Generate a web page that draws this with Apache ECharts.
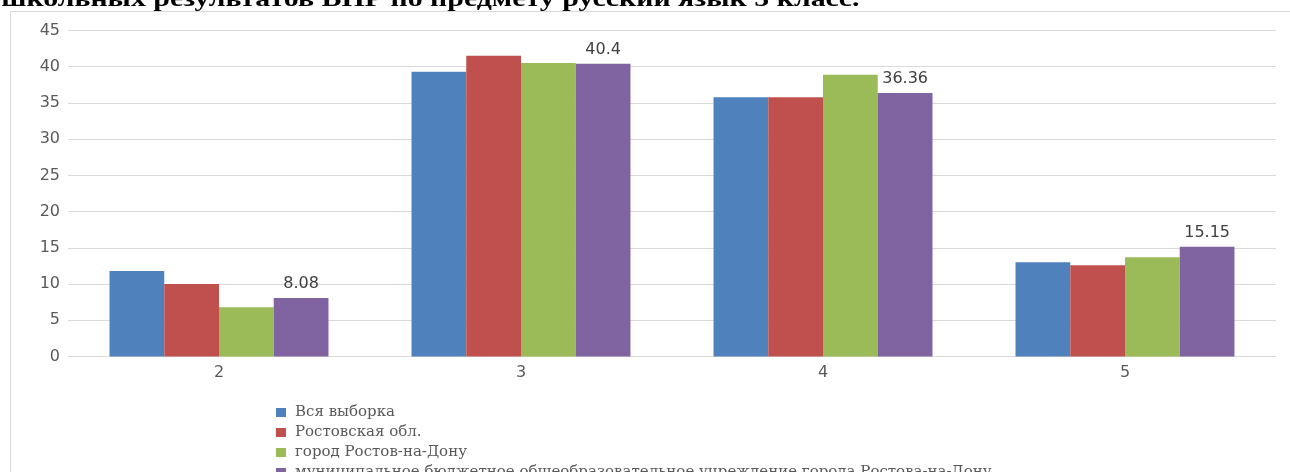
<!DOCTYPE html>
<html>
<head>
<meta charset="utf-8">
<script src="https://cdn.jsdelivr.net/npm/echarts@6/dist/echarts.min.js"></script>
<style>
html,body{margin:0;padding:0;background:#fff;}
#chart{width:1290px;height:472px;}
</style>
</head>
<body>
<div id="chart"></div>
<script>
const categories = ['2', '3', '4', '5'];
const seriesNames = ['Вся выборка', 'Ростовская обл.', 'город Ростов-на-Дону', 'муниципальное бюджетное общеобразовательное учреждение города Ростова-на-Дону'];
const allSample = [11.8, 39.3, 35.8, 13.0];
const rostovRegion = [10.0, 41.5, 35.8, 12.6];
const rostovCity = [6.8, 40.5, 38.9, 13.7];
const school = [8.08, 40.4, 36.36, 15.15];
const colors = ['#4F81BD', '#C0504D', '#9BBB59', '#8064A2'];
const titleText = 'школьных результатов ВПР по предмету русский язык 5 класс.';

const chart = echarts.init(document.getElementById('chart'));
const dataSets = [allSample, rostovRegion, rostovCity, school];
const series = dataSets.map((d, i) => ({
  name: seriesNames[i],
  type: 'bar',
  data: d,
  barGap: '0%',
  barCategoryGap: '27.5%',
  itemStyle: { color: colors[i] },
  label: i === 3 ? {
    show: true, position: 'top', distance: 6,
    fontFamily: 'DejaVu Sans', fontSize: 16, color: '#404040'
  } : { show: false }
}));

chart.setOption({
  animation: false,
  color: colors,
  graphic: [
    { type: 'rect', shape: { x: 10.5, y: 11.5, width: 1400, height: 600 }, style: { fill: 'none', stroke: '#d9d9d9', lineWidth: 1 }, z: -1 },
    { type: 'text', x: 0, y: 0, scaleX: 1.245, style: { text: titleText, x: 1, y: 12, fontFamily: 'Liberation Serif', fontWeight: 'bold', fontSize: 24, fill: '#000', verticalAlign: 'bottom' } }
  ],
  grid: { left: 68, right: 14, top: 30.5, bottom: 115.5, containLabel: false },
  legend: {
    orient: 'vertical', left: 271, top: 400, height: 200,
    itemWidth: 10, itemHeight: 9, itemGap: 5,
    icon: 'rect',
    textStyle: { fontFamily: 'DejaVu Serif', fontSize: 15, color: '#595959', padding: [0, 0, 0, 4] },
    data: seriesNames
  },
  xAxis: {
    type: 'category', data: categories,
    axisLine: { lineStyle: { color: '#d9d9d9' } },
    axisTick: { show: false },
    axisLabel: { fontFamily: 'DejaVu Sans', fontSize: 16, color: '#595959', margin: 8 }
  },
  yAxis: {
    type: 'value', min: 0, max: 45, interval: 5,
    axisLine: { show: false }, axisTick: { show: false },
    splitLine: { lineStyle: { color: '#d9d9d9', width: 1 } },
    axisLabel: { fontFamily: 'DejaVu Sans', fontSize: 16, color: '#595959', margin: 8 }
  },
  series: series
});
</script>
</body>
</html>
